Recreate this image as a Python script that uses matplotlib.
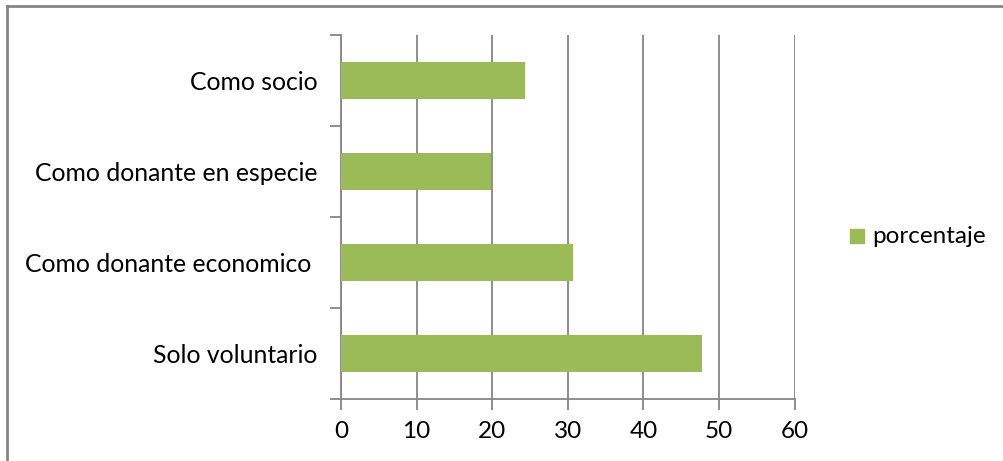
import matplotlib
matplotlib.use('Agg')
import matplotlib.pyplot as plt
from matplotlib.patches import Rectangle
from matplotlib.lines import Line2D

categorias = ['Solo voluntario', 'Como donante economico ', 'Como donante en especie', 'Como socio']
porcentaje = [47.7, 30.7, 19.9, 24.3]
x_ticks = [0, 10, 20, 30, 40, 50, 60]
serie = 'porcentaje'

verde = '#9bbb59'
gris = '#868686'
W, H = 1004, 461

plt.rcParams['font.family'] = ['Lato', 'DejaVu Sans']

fig = plt.figure(figsize=(W / 100, H / 100), dpi=100)
ax = fig.add_axes([341 / W, 1 - 399 / H, (794.7 - 341) / W, (399 - 35) / H])

pos = list(range(len(categorias)))
ax.barh(pos, porcentaje, height=0.4, color=verde, zorder=3)

ax.set_xlim(0, 60)
ax.set_ylim(-0.5, len(categorias) - 0.5)
ax.set_xticks(x_ticks)
ax.set_xticklabels([str(t) for t in x_ticks], fontsize=17.5)
ax.xaxis.grid(True, color=gris, linewidth=1.3, zorder=0)

# category ticks sit on the boundaries, labels in the middle
ax.set_yticks([p - 0.5 for p in pos] + [len(categorias) - 0.5])
ax.set_yticklabels([])
ax.set_yticks(pos, minor=True)
ax.set_yticklabels(categorias, minor=True, fontsize=17.8)
ax.tick_params(axis='y', which='minor', length=0, pad=17)
ax.tick_params(axis='y', which='major', length=8, width=1.3, color=gris, direction='out')
ax.tick_params(axis='x', length=8, width=1.3, color=gris, direction='out', pad=8)

for s in ['top', 'right']:
    ax.spines[s].set_visible(False)
for s in ['left', 'bottom']:
    ax.spines[s].set_color(gris)
    ax.spines[s].set_linewidth(1.3)

# legend
fig.patches.append(Rectangle((850 / W, 1 - 243 / H), 14 / W, 14 / H,
                             transform=fig.transFigure, color=verde))
fig.text(872 / W, 1 - 236 / H, serie, fontsize=17.5, va='center', ha='left')

# outer frame (left and top edges)
fig.add_artist(Line2D([6.5 / W, 6.5 / W], [0, 1 - 6.5 / H], transform=fig.transFigure,
                      color=gris, linewidth=2))
fig.add_artist(Line2D([6.5 / W, 1], [1 - 6.5 / H, 1 - 6.5 / H], transform=fig.transFigure,
                      color=gris, linewidth=2))

fig.savefig('out.png', dpi=100, facecolor='white')
